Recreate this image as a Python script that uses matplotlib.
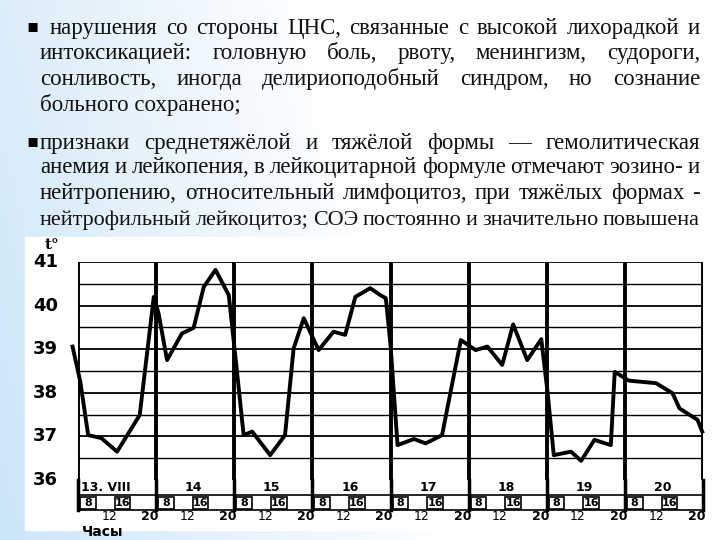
import numpy as np
import matplotlib
matplotlib.use("Agg")
import matplotlib.pyplot as plt
from matplotlib.patches import Rectangle

# ---- data ----
day_labels = ["13. VIII", "14", "15", "16", "17", "18", "19", "20"]
hour_ticks = ["12", "20"]
y_ticks = [36, 37, 38, 39, 40, 41]
# time in days since start of 13 Aug segment, temperature in °C
time_days = [-0.07, 0.03, 0.13, 0.30, 0.50, 0.79, 0.97, 1.03, 1.14, 1.33, 1.48, 1.61, 1.76, 1.93, 2.03,
             2.12, 2.23, 2.46, 2.65, 2.76, 2.89, 3.08, 3.27, 3.42, 3.55, 3.74, 3.87, 3.94, 4.00, 4.09,
             4.30, 4.45, 4.66, 4.90, 5.09, 5.24, 5.43, 5.57, 5.75, 5.93, 6.01, 6.09, 6.31, 6.44, 6.61,
             6.82, 6.87, 7.05, 7.40, 7.61, 7.70, 7.93, 7.99]
temps = [39.06, 38.25, 37.03, 36.96, 36.65, 37.49, 40.20, 39.83, 38.75, 39.36, 39.49, 40.43, 40.82, 40.24, 38.57,
         37.03, 37.11, 36.57, 37.03, 39.02, 39.71, 38.98, 39.40, 39.33, 40.20, 40.40, 40.24, 40.17, 39.10, 36.80,
         36.94, 36.84, 37.03, 39.21, 38.98, 39.06, 38.64, 39.57, 38.75, 39.23, 38.02, 36.57, 36.65, 36.44, 36.92,
         36.80, 38.48, 38.28, 38.22, 37.99, 37.64, 37.38, 37.11]

para1 = ["нарушения со стороны ЦНС, связанные с высокой лихорадкой и",
         "интоксикацией: головную боль, рвоту, менингизм, судороги,",
         "сонливость, иногда делириоподобный синдром, но сознание",
         "больного сохранено;"]
para2 = ["признаки среднетяжёлой и тяжёлой формы — гемолитическая",
         "анемия и лейкопения, в лейкоцитарной формуле отмечают эозино-  и",
         "нейтропению, относительный лимфоцитоз, при тяжёлых формах -",
         "нейтрофильный лейкоцитоз; СОЭ постоянно и значительно повышена"]

W, H = 720, 540
fig = plt.figure(figsize=(7.2, 5.4), dpi=100)

# background gradient
bg = fig.add_axes([0, 0, 1, 1])
xx = np.linspace(0, 1, 200)
yy = np.linspace(0, 1, 200)
X, Y = np.meshgrid(xx, yy)
t = np.clip(1 - (X * 1.6 + (1 - Y) * 0.3), 0, 1)
c0 = np.array([0.80, 0.90, 0.97]); c1 = np.array([1, 1, 1])
img = c1[None, None, :] * (1 - t[..., None]) + c0[None, None, :] * t[..., None]
bg.imshow(img, extent=[0, W, 0, H], aspect='auto', origin='lower')
bg.set_xlim(0, W); bg.set_ylim(H, 0); bg.axis('off')
bg.add_patch(Rectangle((25, 237), 695, 293, color='white', zorder=1))

renderer = fig.canvas.get_renderer()
FS = 16.5
FONT = "Liberation Serif"

def word_w(w, fs):
    tx = bg.text(0, 0, w, fontsize=fs, family=FONT)
    bb = tx.get_window_extent(renderer)
    tx.remove()
    return bb.width

def place_line(line, y, x0, x1, justify=True):
    yb = y + 6
    fs = FS
    if not justify:
        bg.text(x0, yb, line, fontsize=fs, family=FONT, va='baseline', ha='left', zorder=3, color='#111')
        return
    words = line.split()
    widths = [word_w(w, fs) for w in words]
    need = sum(widths) + 5 * (len(words) - 1)
    if need > x1 - x0:
        s = (x1 - x0 - 5 * (len(words) - 1)) / sum(widths)
        fs = fs * s
        widths = [word_w(w, fs) for w in words]
    gap = (x1 - x0 - sum(widths)) / (len(words) - 1)
    x = x0
    for w, wd in zip(words, widths):
        bg.text(x, yb, w, fontsize=fs, family=FONT, va='baseline', ha='left', zorder=3, color='#111')
        x += wd + gap

ys1 = [28, 53, 79, 105]
ys2 = [143, 167, 193, 219]
bg.text(33, 26, "▪", fontsize=13, family="DejaVu Sans", va='center', ha='center', zorder=3)
bg.text(33, 141, "▪", fontsize=13, family="DejaVu Sans", va='center', ha='center', zorder=3)
for i, (ln, y) in enumerate(zip(para1, ys1)):
    x0 = 50 if i == 0 else 40
    place_line(ln, y, x0, 700, justify=(i < 3))
for i, (ln, y) in enumerate(zip(para2, ys2)):
    place_line(ln, y, 40, 700, justify=True)

# ---- chart ----
x0p, x1p, ytop, ybot = 78, 703, 262, 480
ax = fig.add_axes([x0p / W, 1 - ybot / H, (x1p - x0p) / W, (ybot - ytop) / H])
ax.set_xlim(0, 8)
ax.set_ylim(36, 41)
ax.set_facecolor('none')
for s in ax.spines.values():
    s.set_visible(False)
ax.set_xticks([]); ax.set_yticks([])
for yv in np.arange(36.5, 41.01, 0.5):
    ax.axhline(yv, color='black', lw=1.3 if yv % 1 == 0 else 1.0)
for d in range(9):
    ax.axvline(d, color='black', lw=2.8)
ax.plot(time_days, temps, color='black', lw=2.8, clip_on=False, zorder=5)

# y labels
for v in y_ticks:
    py = ytop + (41 - v) * (ybot - ytop) / 5
    bg.text(58, py, str(v), fontsize=13, fontweight='bold', family='DejaVu Sans',
            ha='right', va='center', zorder=3)
bg.text(45, 245, "t°", fontsize=11, fontweight='bold', family='DejaVu Serif',
        ha='left', va='center', zorder=3)

# bottom table
dw = (x1p - x0p) / 8
bg.plot([x0p, x1p], [495, 495], color='black', lw=1.2, zorder=3)
bg.plot([x0p, x1p], [510, 510], color='black', lw=1.2, zorder=3)
for d in range(9):
    bg.plot([x0p + d * dw] * 2, [480, 510], color='black', lw=2.5, zorder=3)
for d, lab in enumerate(day_labels):
    xs = x0p + d * dw
    bg.text(xs + dw * (0.35 if d == 0 else 0.48), 487.5, lab, fontsize=9, fontweight='bold',
            family='DejaVu Sans', ha='center', va='center', zorder=4)
    bg.add_patch(Rectangle((xs + 2, 497), dw * 0.2, 12, fill=False, lw=1.2, zorder=4))
    bg.text(xs + 2 + dw * 0.1, 503, "8", fontsize=8, fontweight='bold', family='DejaVu Sans',
            ha='center', va='center', zorder=4)
    bg.add_patch(Rectangle((xs + dw * 0.47, 497), dw * 0.2, 12, fill=False, lw=1.2, zorder=4))
    bg.text(xs + dw * 0.57, 503, "16", fontsize=8, fontweight='bold', family='DejaVu Sans',
            ha='center', va='center', zorder=4)
    bg.text(xs + dw * 0.4, 517, hour_ticks[0], fontsize=9, family='DejaVu Sans',
            ha='center', va='center', zorder=4)
    bg.text(xs + dw * 0.92, 517, hour_ticks[1], fontsize=9, fontweight='bold', family='DejaVu Sans',
            ha='center', va='center', zorder=4)
bg.text(82, 532, "Часы", fontsize=10, fontweight='bold', family='DejaVu Sans',
        ha='left', va='center', zorder=4)

fig.savefig("out.png", dpi=100)
